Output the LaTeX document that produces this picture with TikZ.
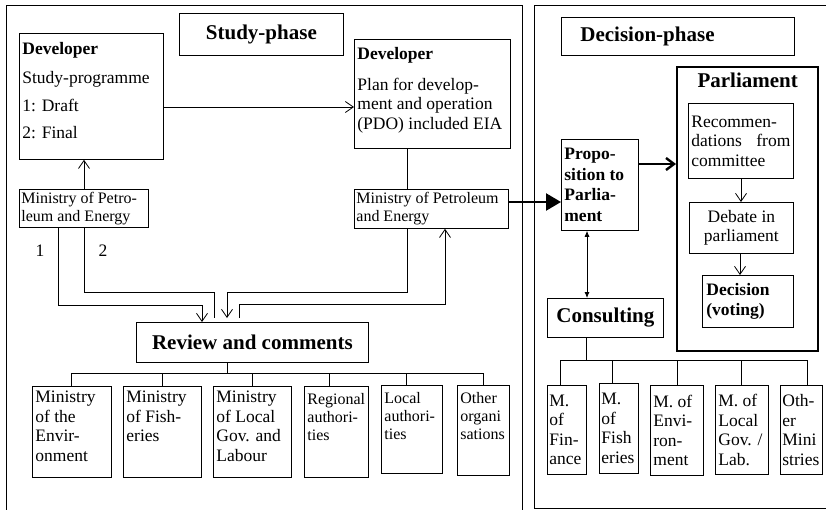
\documentclass[tikz,border=0pt]{standalone}
\usepackage{fontspec}
\setmainfont{Liberation Serif}
\usetikzlibrary{arrows.meta,calc}
\newcommand\pbx[4]{\parbox[c][#2pt][#3]{#1pt}{#4}}
\newcommand\fm{\fontsize{17.5}{19.5}\selectfont}
\newcommand\fs{\fontsize{16}{18}\selectfont}
\newcommand\fh{\fontsize{21}{24}\selectfont\bfseries}
\newcommand\fb{\fontsize{17.5}{20.5}\selectfont\bfseries}
\begin{document}
\begin{tikzpicture}[x=1pt,y=-1pt,
  box/.style={draw, line width=0.8pt, inner sep=0pt, anchor=north west},
  ln/.style={line width=0.8pt},
  arr/.style={line width=0.8pt, -{Straight Barb[length=8pt,width=11pt]}},
  tarr/.style={line width=2.4pt, -{Straight Barb[length=8pt,width=12pt]}},
  farr/.style={line width=2.4pt, -{Triangle[length=15pt,width=17pt]}},
  darr/.style={line width=0.8pt, {Latex[length=6pt,width=5pt]}-{Latex[length=6pt,width=5pt]}},
  frame/.style={line width=0.8pt}]
\useasboundingbox (0,0) rectangle (826,509);
% frames
\draw[frame] (522,514) -- (522,5) -- (6,5) -- (6,514);
\draw[frame] (830,5) -- (534,5) -- (534,508) -- (830,508);
% study phase
\node[box] (study) at (179,13) {\pbx{164}{42}{c}{\centering\fh Study-phase}};
\node[box] (dec) at (561,17) {\pbx{233}{38}{c}{\leftskip=19pt\fh Decision-phase}};
% developer 1
\node[box] (dev1) at (19,33) {\pbx{144}{126}{t}{\raggedright\leftskip=3pt\fm\vspace*{9pt}%
  \textbf{Developer}\\[9pt] Study-programme\\[9pt] 1: Draft\\[7pt] 2: Final}};
\node[box] (min1) at (19,189) {\pbx{129}{38}{c}{\raggedright\leftskip=2pt\fs Ministry of Petro-\\leum and Energy}};
% developer 2
\node[box] (dev2) at (354,39) {\pbx{156}{109}{t}{\raggedright\leftskip=3pt\fm\vspace*{8pt}%
  \textbf{Developer}\\[11pt] Plan for develop-\\ment and operation\\(PDO) included EIA}};
\node[box] (min2) at (354,189) {\pbx{154}{39}{c}{\raggedright\leftskip=2pt\fs Ministry of Petroleum\\and Energy}};
% proposition
\node[box] (prop) at (561,139) {\pbx{77}{91}{c}{\raggedright\leftskip=3pt\fb Propo-\\sition to\\Parlia-\\ment}};
% parliament
\node[box, line width=2.4pt] (parl) at (676,66) {\pbx{141}{284}{t}{\centering\fh\vspace*{6pt}Parliament}};
\node[box] (rec) at (688,103) {\pbx{105}{75}{c}{\raggedright\leftskip=3pt\fm Recommen-\\dations\hfill from\hspace*{3pt}\mbox{}\\committee}};
\node[box] (deb) at (689,202) {\pbx{104}{51}{c}{\centering\fm Debate in\\parliament}};
\node[box] (dcs) at (702,275) {\pbx{91}{52}{c}{\raggedright\leftskip=4pt\fb Decision\\(voting)}};
% consulting
\node[box] (cons) at (547,298) {\pbx{116}{39}{c}{\centering\fh Consulting}};
\node[box] (mfin) at (547,385) {\pbx{39}{89}{c}{\raggedright\leftskip=2pt\fm M.\\of\\Fin-\\ance}};
\node[box] (mfis) at (599,383) {\pbx{39}{90}{c}{\raggedright\leftskip=2pt\fm M.\\of\\Fish\\eries}};
\node[box] (menv) at (650,385) {\pbx{53}{90}{c}{\raggedright\leftskip=3pt\fm M. of\\Envi-\\ron-\\ment}};
\node[box] (mloc) at (715,385) {\pbx{53}{89}{c}{\raggedright\leftskip=3pt\fm M. of\\Local\\Gov. /\\Lab.}};
\node[box] (moth) at (780,385) {\pbx{42}{89}{c}{\raggedright\leftskip=2pt\fm Oth-\\er\\Mini\\stries}};
% review
\node[box] (rev) at (136,322) {\pbx{232}{40}{c}{\centering\fh Review and comments}};
\node[box] (renv) at (32,386) {\pbx{79}{91}{t}{\raggedright\leftskip=3pt\fm\vspace*{5pt}Ministry\\of the\\Envir-\\onment}};
\node[box] (rfis) at (123,386) {\pbx{78}{91}{t}{\raggedright\leftskip=3pt\fm\vspace*{5pt}Ministry\\of Fish-\\eries}};
\node[box] (rloc) at (213,386) {\pbx{78}{91}{t}{\raggedright\leftskip=3pt\fm\vspace*{5pt}Ministry\\of Local\\Gov. and\\Labour}};
\node[box] (rreg) at (304,386) {\pbx{64}{91}{t}{\raggedright\leftskip=3pt\fs\vspace*{7pt}Regional\\authori-\\ties}};
\node[box] (rlca) at (381,385) {\pbx{61}{88}{t}{\raggedright\leftskip=3pt\fs\vspace*{7pt}Local\\authori-\\ties}};
\node[box] (roth) at (457,385) {\pbx{52}{90}{t}{\raggedright\leftskip=3pt\fs\vspace*{7pt}Other\\organi\\sations}};
% labels
\node[font=\fm] (l1) at (40,251) {1};
\node[font=\fm] (l2) at (103,251) {2};
% connectors
\draw[arr] (min1.north -| 84,0) -- (dev1.south -| 84,0);
\draw[arr] (dev1.east |- 0,107) -- (dev2.west |- 0,107);
\draw[ln] (dev2.south -| 407,0) -- (min2.north -| 407,0);
\draw[farr] (min2.east |- 0,202) -- (prop.west |- 0,202);
\draw[tarr] (prop.east |- 0,164) -- (parl.west |- 0,164);
\draw[arr] (rec.south -| 741,0) -- (deb.north -| 741,0);
\draw[arr] (deb.south -| 740,0) -- (dcs.north -| 740,0);
\draw[darr] (prop.south -| 587,0) -- (cons.north -| 587,0);
% consulting bus
\coordinate (cb) at (586,360);
\draw[ln] (cons.south -| cb) -- (cb);
\draw[ln] (mfin.north -| 560,0) -- (560,360) -- (807,360) -- (moth.north -| 807,0);
\draw[ln] (mfis.north -| 612,0) -- (612,360);
\draw[ln] (menv.north -| 677,0) -- (677,360);
\draw[ln] (mloc.north -| 741,0) -- (741,360);
% review bus
\coordinate (rb) at (227,373);
\draw[ln] (rev.south -| rb) -- (rb);
\draw[ln] (renv.north -| 71,0) -- (71,373) -- (483,373) -- (roth.north -| 483,0);
\draw[ln] (rfis.north -| 162,0) -- (162,373);
\draw[ln] (rloc.north -| 252,0) -- (252,373);
\draw[ln] (rreg.north -| 329,0) -- (329,373);
\draw[ln] (rlca.north -| 406,0) -- (406,373);
% ministry -> review
\draw[arr] (min1.south -| 58,0) -- (58,305) -- (202,305) -- (rev.north -| 202,0);
\draw[ln] (min1.south -| 84,0) -- (84,292) -- (214,292) -- ([yshift=4pt]rev.north -| 214,0);
\draw[arr] (min2.south -| 407,0) -- (407,292) -- (227,292) -- ([yshift=4pt]rev.north -| 227,0);
\draw[arr] ([yshift=4pt]rev.north -| 239,0) -- (239,304) -- (445,304) -- (min2.south -| 445,0);
\end{tikzpicture}
\end{document}
